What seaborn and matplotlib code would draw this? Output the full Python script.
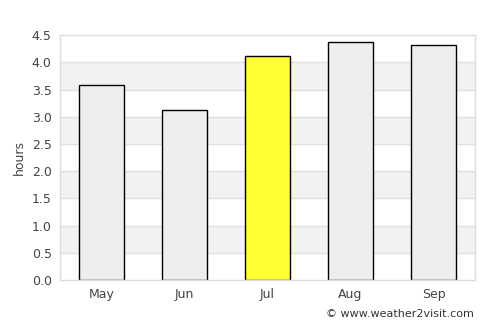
import numpy as np
import pandas as pd
import matplotlib
matplotlib.use('Agg')
import matplotlib.pyplot as plt
import seaborn as sns

# data
months = ['May', 'Jun', 'Jul', 'Aug', 'Sep']
hours = [3.58, 3.12, 4.11, 4.38, 4.31]
highlight = 'Jul'

df = pd.DataFrame({'month': months, 'hours': hours})
palette = {m: ('#ffff33' if m == highlight else '#eeeeee') for m in months}

sns.set_style('white')
plt.rcParams['font.family'] = ['DejaVu Sans']

fig = plt.figure(figsize=(5, 3.25), dpi=100)
ax = fig.add_axes([0.12, 0.138, 0.83, 0.754])

# alternating background bands + grid
for lo in np.arange(0.5, 4.5, 1.0):
    ax.axhspan(lo, lo + 0.5, color='#f2f2f2', zorder=0, lw=0)
for y in np.arange(0.5, 4.5, 0.5):
    ax.axhline(y, color='#e0e0e0', lw=1, zorder=0.5)

sns.barplot(data=df, x='month', y='hours', hue='month', palette=palette,
            order=months, width=0.54, edgecolor='black', linewidth=1,
            saturation=1, legend=False, ax=ax, zorder=2)

ax.set_ylim(0, 4.5)
ax.set_xlim(-0.5, 4.5)
ax.set_yticks(np.arange(0, 4.51, 0.5))
ax.set_yticklabels([f'{v:.1f}' for v in np.arange(0, 4.51, 0.5)])
ax.set_xlabel('')
ax.set_ylabel('hours', color='#444444', fontsize=9)
ax.tick_params(axis='both', colors='#444444', labelsize=9, length=0, pad=6)
for s in ax.spines.values():
    s.set_color('#dddddd')
    s.set_linewidth(1)

fig.text(0.948, 0.035, '\u00a9 www.weather2visit.com', ha='right', va='center',
         fontsize=8, color='#333333')

fig.savefig('out.png', dpi=100)
